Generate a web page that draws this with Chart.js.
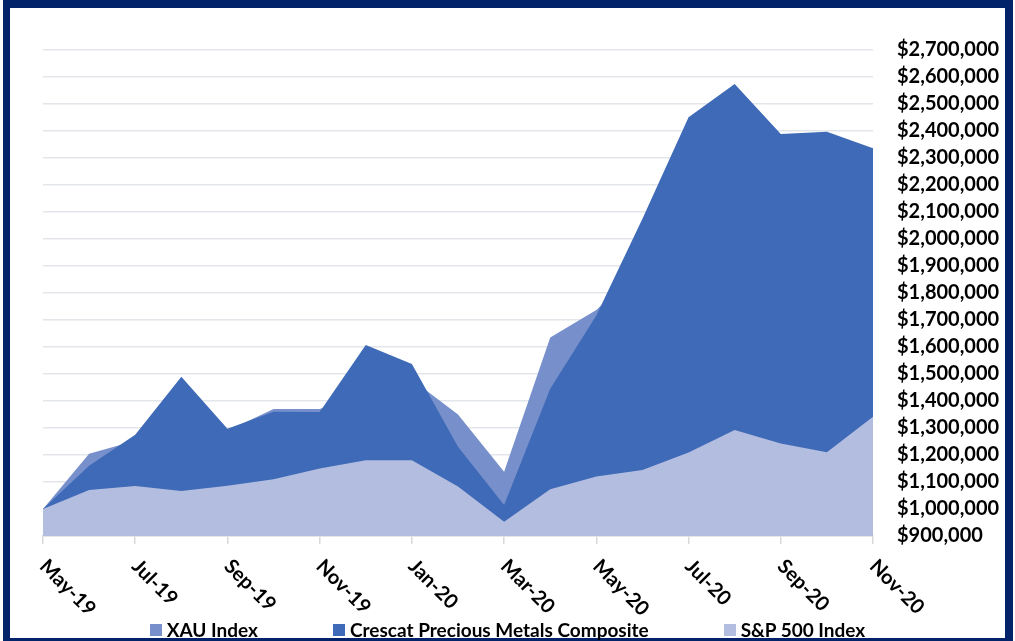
<!DOCTYPE html>
<html>
<head>
<meta charset="utf-8">
<script src="https://cdn.jsdelivr.net/npm/chart.js@4.4.0/dist/chart.umd.min.js"></script>
<style>
  html, body { margin: 0; padding: 0; background: #fff; }
  .frame {
    position: absolute; left: 3px; top: 0; width: 995px; height: 630px;
    border-style: solid; border-color: #022369; border-width: 8px 8px 3px 7px;
  }
  .frame canvas { position: absolute; left: 0; top: 0; }
  .legend {
    position: absolute; left: 0; right: 0; top: 612px; height: 20px;
    display: flex; justify-content: center; align-items: center; gap: 75px;
    font: bold 19px Lato, sans-serif; color: #000; line-height: 20px;
  }
  .legend .item { display: flex; align-items: center; white-space: nowrap; }
  .legend .box { display: inline-block; width: 12px; height: 12px; margin-right: 5px; }
</style>
</head>
<body>
<div class="frame">
  <canvas id="chart" width="995" height="630"></canvas>
  <div class="legend" id="legend"></div>
</div>
<script>
const months = ['May-19', 'Jun-19', 'Jul-19', 'Aug-19', 'Sep-19', 'Oct-19', 'Nov-19', 'Dec-19',
  'Jan-20', 'Feb-20', 'Mar-20', 'Apr-20', 'May-20', 'Jun-20', 'Jul-20', 'Aug-20', 'Sep-20', 'Oct-20', 'Nov-20'];

const xauIndex = [1000000, 1205000, 1253000, 1420000, 1290000, 1370000, 1370000, 1430000, 1480000, 1350000,
  1138000, 1635000, 1737000, 1900000, 2150000, 2120000, 2060000, 2000000, 1940000];
const crescatComposite = [1000000, 1160000, 1275000, 1490000, 1297000, 1360000, 1359000, 1607000, 1537000, 1231000,
  1015000, 1445000, 1717000, 2075000, 2451000, 2574000, 2389000, 2397000, 2336000];
const sp500Index = [1000000, 1070000, 1085000, 1067000, 1086000, 1110000, 1150000, 1181000, 1181000, 1083000,
  953000, 1073000, 1120000, 1144000, 1209000, 1293000, 1243000, 1210000, 1342000];

const seriesNames = ['XAU Index', 'Crescat Precious Metals Composite', 'S&P 500 Index'];
const seriesColors = ['#7790cc', '#3e6ab7', '#b3bde0'];

const yMin = 900000;
const yMax = 2700000;
const yStep = 100000;

const font = 'Lato, sans-serif';

// month labels go down to the right, which chart.js can't rotate that way on its own
const monthLabels = {
  id: 'monthLabels',
  afterDraw(chart) {
    const xs = chart.scales.x;
    const ctx = chart.ctx;
    ctx.save();
    ctx.font = 'bold 20px ' + font;
    ctx.fillStyle = '#000';
    ctx.textAlign = 'left';
    ctx.textBaseline = 'middle';
    months.forEach((m, i) => {
      if (i % 2) return;
      ctx.save();
      ctx.translate(xs.getPixelForTick(i), xs.top + 27);
      ctx.rotate(Math.PI / 4);
      ctx.fillText(m, 0, 0);
      ctx.restore();
    });
    ctx.restore();
  }
};

const makeSet = (i, data, order) => ({
  label: seriesNames[i],
  data,
  order,
  fill: 'start',
  backgroundColor: seriesColors[i],
  borderColor: seriesColors[i],
  borderWidth: 0,
  pointRadius: 0,
  tension: 0
});

new Chart(document.getElementById('chart').getContext('2d'), {
  type: 'line',
  data: {
    labels: months,
    datasets: [
      makeSet(0, xauIndex, 3),
      makeSet(1, crescatComposite, 2),
      makeSet(2, sp500Index, 1)
    ]
  },
  options: {
    responsive: false,
    animation: false,
    layout: { padding: { left: 33, top: 42, right: 0, bottom: 94 } },
    plugins: {
      legend: { display: false },
      tooltip: { enabled: false }
    },
    scales: {
      x: {
        offset: false,
        afterFit: s => { s.height = 8; },
        grid: {
          display: true,
          drawOnChartArea: false,
          drawTicks: true,
          tickLength: 8,
          lineWidth: 1.5,
          tickColor: c => (c.index % 2 ? 'rgba(0,0,0,0)' : '#d9d9d9')
        },
        border: { display: true, color: '#d9d9d9', width: 1.5 },
        ticks: { display: false, autoSkip: false }
      },
      y: {
        position: 'right',
        min: yMin,
        max: yMax,
        afterFit: s => { s.width = 132; },
        grid: { color: '#e2e5ea', lineWidth: 1.5, drawTicks: false },
        border: { display: false },
        ticks: {
          stepSize: yStep,
          padding: 24,
          color: '#000',
          font: { family: font, size: 20, weight: 'bold' },
          callback: v => '$' + Number(v).toLocaleString('en-US')
        }
      }
    }
  },
  plugins: [monthLabels]
});

// legend under the month labels
const legend = document.getElementById('legend');
seriesNames.forEach((name, i) => {
  const item = document.createElement('div');
  item.className = 'item';
  const box = document.createElement('span');
  box.className = 'box';
  box.style.background = seriesColors[i];
  item.appendChild(box);
  item.appendChild(document.createTextNode(name));
  legend.appendChild(item);
});
</script>
</body>
</html>
